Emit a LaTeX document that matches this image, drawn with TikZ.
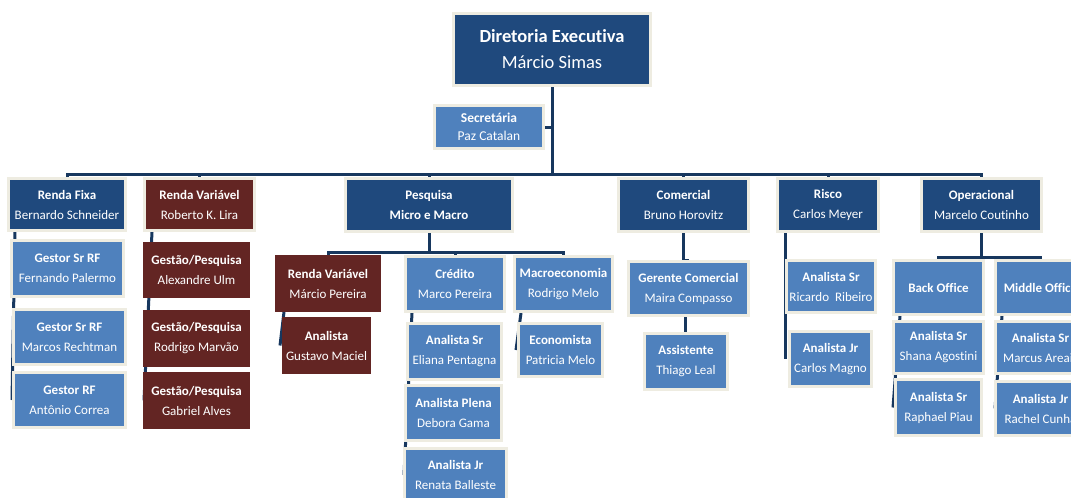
\documentclass[tikz,border=0pt]{standalone}
\usepackage{fontspec}
\setmainfont{Carlito}[Ligatures=NoCommon]
\usepackage{xcolor}
\usepackage{tikz}
\usetikzlibrary{calc}
\definecolor{darkblue}{RGB}{31,73,125}
\definecolor{midblue}{RGB}{79,129,189}
\definecolor{darkred}{RGB}{99,37,35}
\definecolor{cream}{RGB}{238,236,225}
\definecolor{linenavy}{RGB}{23,55,94}
\pgfdeclarelayer{background}
\pgfsetlayers{background,main}
% box given by its outer corners (x1,y1) (x2,y2), in pixels
\newcommand{\orgnode}[7]{%
  \pgfmathsetmacro\bw{#5-#3-3}\pgfmathsetmacro\bh{#6-#4-3}%
  \node[#1,minimum width=\bw pt,minimum height=\bh pt] (#2) at ({(#3+#5)/2},{(#4+#6)/2}) {#7};}

\begin{document}
\begin{tikzpicture}[x=1pt,y=-1pt,
  orgbox/.style={rectangle,align=center,text=white,inner sep=1pt,line width=3pt,font=\fontsize{13}{20}\selectfont},
  headbox/.style={orgbox,fill=darkblue,draw=cream},
  unitbox/.style={orgbox,fill=midblue,draw=cream},
  redhead/.style={orgbox,fill=darkred,draw=cream},
  redbox/.style={orgbox,fill=darkred,draw=darkred},
  conn/.style={draw=linenavy,line width=3pt}]
\useasboundingbox (0,0) rectangle (1071,498);
\clip (0,0) rectangle (1071,498);
% ---- top ----
\orgnode{headbox,font=\fontsize{18.5}{26}\selectfont}{dir}{452}{12}{652}{87}{\textbf{Diretoria Executiva}\\Márcio Simas}
\orgnode{unitbox,font=\fontsize{13.5}{18}\selectfont}{sec}{433}{104}{545}{150}{\textbf{Secretária}\\Paz Catalan}
% ---- directors ----
\orgnode{headbox}{rf}{7}{177}{127}{232}{\textbf{Renda Fixa}\\Bernardo Schneider}
\orgnode{redhead}{rv}{143}{177}{256}{232}{\textbf{Renda Variável}\\Roberto K. Lira}
\orgnode{headbox}{pq}{344}{177}{514}{233}{\textbf{Pesquisa}\\\textbf{Micro e Macro}}
\orgnode{headbox}{com}{617}{177}{750}{233}{\textbf{Comercial}\\Bruno Horovitz}
\orgnode{headbox}{ris}{776}{177}{880}{233}{\textbf{Risco}\\Carlos Meyer}
\orgnode{headbox}{op}{920}{177}{1043}{233}{\textbf{Operacional}\\Marcelo Coutinho}
% ---- renda fixa / renda variavel ----
\orgnode{unitbox}{gs1}{10}{239}{125}{298}{\textbf{Gestor Sr RF}\\Fernando Palermo}
\orgnode{unitbox}{gs2}{12}{308}{127}{366}{\textbf{Gestor Sr RF}\\Marcos Rechtman}
\orgnode{unitbox}{gr}{12}{371}{127}{429}{\textbf{Gestor RF}\\Antônio Correa}
\orgnode{redbox}{gp1}{143}{242}{250}{298}{\textbf{Gestão/Pesquisa}\\Alexandre Ulm}
\orgnode{redbox}{gp2}{143}{310}{250}{367}{\textbf{Gestão/Pesquisa}\\Rodrigo Marvão}
\orgnode{redbox}{gp3}{143}{372}{250}{429}{\textbf{Gestão/Pesquisa}\\Gabriel Alves}
% ---- pesquisa ----
\orgnode{redbox}{rvp}{275}{255}{381}{312}{\textbf{Renda Variável}\\Márcio Pereira}
\orgnode{redbox}{ana}{282}{317}{371}{374}{\textbf{Analista}\\Gustavo Maciel}
\orgnode{unitbox}{cred}{404}{255}{506}{313}{\textbf{Crédito}\\Marco Pereira}
\orgnode{unitbox}{mac}{513}{255}{614}{313}{\textbf{Macroeconomia}\\Rodrigo Melo}
\orgnode{unitbox}{asr}{406}{322}{503}{381}{\textbf{Analista Sr}\\Eliana Pentagna}
\orgnode{unitbox}{apl}{404}{384}{503}{442}{\textbf{Analista Plena}\\Debora Gama}
\orgnode{unitbox}{ajr}{403}{447}{508}{503}{\textbf{Analista Jr}\\Renata Balleste}
\orgnode{unitbox}{eco}{517}{322}{604}{378}{\textbf{Economista}\\Patricia Melo}
% ---- comercial / risco ----
\orgnode{unitbox}{gc}{627}{260}{750}{317}{\textbf{Gerente Comercial}\\Maira Compasso}
\orgnode{unitbox}{ast}{643}{332}{729}{391}{\textbf{Assistente}\\Thiago Leal}
\orgnode{unitbox}{asrb}{785}{259}{877}{314}{\textbf{Analista Sr}\\Ricardo\ \ Ribeiro}
\orgnode{unitbox}{ajrb}{788}{330}{873}{388}{\textbf{Analista Jr}\\Carlos Magno}
% ---- operacional ----
\orgnode{unitbox}{bo}{892}{259}{985}{316}{\textbf{Back Office}}
\orgnode{unitbox}{mo}{994}{259}{1087}{316}{\textbf{Middle Office}}
\orgnode{unitbox}{asrc}{892}{320}{985}{375}{\textbf{Analista Sr}\\Shana Agostini}
\orgnode{unitbox}{asrd}{894}{378}{983}{437}{\textbf{Analista Sr}\\Raphael Piau}
\orgnode{unitbox}{asre}{994}{320}{1087}{375}{\textbf{Analista Sr}\\Marcus Areais}
\orgnode{unitbox}{ajrc}{994}{380}{1087}{437}{\textbf{Analista Jr}\\Rachel Cunha}
% ---- connectors ----
\coordinate (bus) at (0,174);
\coordinate (pbus) at (0,252);
\coordinate (obus) at (0,257);
\begin{pgfonlayer}{background}
\draw[conn] (dir.south) -- (dir.south |- bus);
\draw[conn] (sec.east) -- (sec.east -| dir.south);
\draw[conn] (rf.north) -- (rf.north |- bus) -- (op.north |- bus) -- (op.north);
\foreach \n in {rv,pq,com,ris} \draw[conn] (\n.north) -- (\n.north |- bus);
\draw[conn] ($(rf.south west)+(8,0)$) -- ($(rf.south west |- gr.west)+(5,0)$);
\draw[conn] ($(rv.south west)+(9,0)$) -- ($(gp3.west)+(1,0)$);
\draw[conn] (pq.south) -- (pq.south |- pbus);
\draw[conn] (rvp.north) -- (rvp.north |- pbus) -- (mac.north |- pbus) -- (mac.north);
\draw[conn] (cred.north) -- (cred.north |- pbus);
\draw[conn] ($(rvp.south west)+(9,0)$) -- ($(ana.west)+(-2,0)$);
\draw[conn] ($(cred.south west)+(8,0)$) -- ($(ajr.west)+(1,0)$);
\draw[conn] ($(mac.south west)+(8,0)$) -- ($(eco.west)+(-1,0)$);
\draw[conn] (com.south) -- (com.south |- gc.north) -- (gc.north);
\draw[conn] ($(gc.south)+(-3,0)$) -- ($(gc.south |- ast.north)+(-3,0)$) -- (ast.north);
\draw[conn] ($(ris.south west)+(9,0)$) -- ($(ris.south west |- ajrb.west)+(9,0)$);
\draw[conn] (op.south) -- (op.south |- obus);
\draw[conn] (bo.north) -- (bo.north |- obus) -- (mo.north |- obus) -- (mo.north);
\draw[conn] ($(bo.south west)+(8,0)$) -- ($(asrd.west)+(-1,0)$);
\draw[conn] ($(mo.south west)+(8,0)$) -- ($(ajrc.west)+(1,0)$);
\end{pgfonlayer}
\end{tikzpicture}
\end{document}
